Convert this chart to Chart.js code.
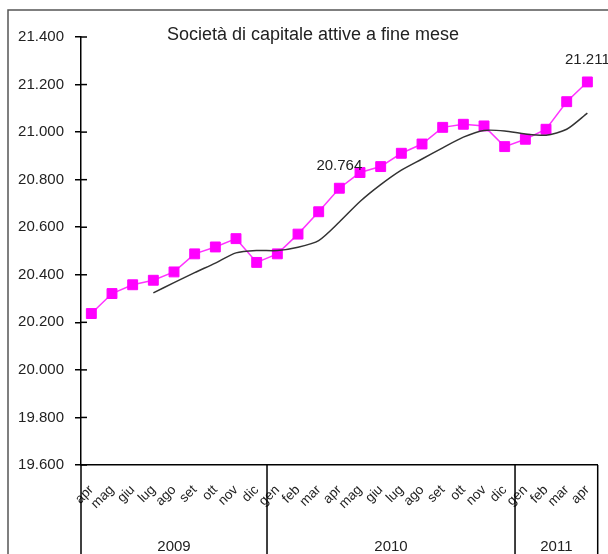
<!DOCTYPE html>
<html>
<head>
<meta charset="utf-8">
<script src="https://cdn.jsdelivr.net/npm/chart.js@4.4.0/dist/chart.umd.min.js"></script>
<style>
  html, body { margin: 0; padding: 0; background: #fff; }
  #wrap { width: 608px; height: 554px; }
</style>
</head>
<body>
<div id="wrap"><canvas id="societaChart" width="608" height="554"></canvas></div>
<script>
// Data
const months = ['apr', 'mag', 'giu', 'lug', 'ago', 'set', 'ott', 'nov', 'dic',
                'gen', 'feb', 'mar', 'apr', 'mag', 'giu', 'lug', 'ago', 'set', 'ott', 'nov', 'dic',
                'gen', 'feb', 'mar', 'apr'];
const years = ['2009', '2010', '2011'];
const yearFirst = [0, 9, 21];
const attive = [20237, 20321, 20358, 20377, 20412, 20488, 20517, 20552, 20452,
                20488, 20571, 20665, 20764, 20830, 20855, 20911, 20950, 21020, 21033, 21026, 20939,
                20970, 21012, 21128, 21211];
const media = [null, null, null, 20324, 20367, 20409, 20449, 20492, 20502,
               20502, 20516, 20544, 20622, 20708, 20779, 20840, 20887, 20934, 20979, 21007, 21005,
               20992, 20987, 21012, 21080];
const labelled = [12, 24];
const yMin = 19600, yMax = 21400, yStep = 200;

const fmt = v => String(Math.round(v)).replace(/\B(?=(\d{3})+(?!\d))/g, '.');
const FONT = '"Liberation Sans", Arial, sans-serif';

// frame, title, crossing ticks, year groups, value labels
const decor = {
    id: 'decor',
    afterDraw(chart) {
        const ctx = chart.ctx;
        const area = chart.chartArea;
        const x = chart.scales.x, y = chart.scales.y;
        ctx.save();

        ctx.strokeStyle = '#555';
        ctx.lineWidth = 1.5;
        ctx.beginPath();
        ctx.moveTo(8, chart.height);
        ctx.lineTo(8, 10);
        ctx.lineTo(chart.width, 10);
        ctx.stroke();

        ctx.fillStyle = '#222';
        ctx.font = '18px ' + FONT;
        ctx.textAlign = 'center';
        ctx.textBaseline = 'middle';
        ctx.fillText('Società di capitale attive a fine mese', 313, 35);

        ctx.strokeStyle = '#000';
        ctx.lineWidth = 1.5;
        y.ticks.forEach(t => {
            const py = y.getPixelForValue(t.value);
            ctx.beginPath();
            ctx.moveTo(area.left, py);
            ctx.lineTo(area.left + 6, py);
            ctx.stroke();
        });

        const half = (x.getPixelForValue(1) - x.getPixelForValue(0)) / 2;
        const edges = yearFirst.concat([months.length]);
        ctx.font = '15px ' + FONT;
        ctx.fillStyle = '#222';
        ctx.textBaseline = 'alphabetic';
        for (let i = 0; i < edges.length; i++) {
            const ex = x.getPixelForValue(edges[i]) - half;
            ctx.beginPath();
            ctx.moveTo(ex, area.bottom);
            ctx.lineTo(ex, chart.height);
            ctx.stroke();
            if (i < years.length) {
                const ex2 = x.getPixelForValue(edges[i + 1]) - half;
                ctx.fillText(years[i], (ex + ex2) / 2, 551);
            }
        }

        const meta = chart.getDatasetMeta(1);
        ctx.font = '15px ' + FONT;
        ctx.textBaseline = 'middle';
        labelled.forEach(i => {
            const p = meta.data[i];
            ctx.fillText(fmt(attive[i]), p.x, p.y - 22);
        });
        ctx.restore();
    }
};

const ctx = document.getElementById('societaChart').getContext('2d');
new Chart(ctx, {
    type: 'line',
    data: {
        labels: months,
        datasets: [{
            label: 'media',
            data: media,
            borderColor: '#333',
            borderWidth: 1.5,
            pointRadius: 0,
            tension: 0.25,
            fill: false
        }, {
            label: 'attive',
            data: attive,
            borderColor: '#ff33ff',
            borderWidth: 1.5,
            backgroundColor: '#ff00ff',
            pointBackgroundColor: '#ff00ff',
            pointBorderColor: '#ff00ff',
            pointBorderWidth: 1,
            pointStyle: 'rect',
            pointRadius: 7,
            tension: 0,
            fill: false
        }]
    },
    options: {
        responsive: false,
        animation: false,
        layout: { padding: { top: 37, right: 9, left: 0, bottom: 0 } },
        scales: {
            x: {
                type: 'category',
                offset: true,
                grid: { display: false },
                border: { display: true, color: '#000', width: 1.5 },
                ticks: {
                    minRotation: 45,
                    maxRotation: 45,
                    autoSkip: false,
                    padding: 9,
                    color: '#222',
                    font: { family: FONT, size: 13.5 }
                },
                afterFit: s => { s.height = 89; }
            },
            y: {
                min: yMin,
                max: yMax,
                border: { display: true, color: '#000', width: 1.5 },
                grid: { drawOnChartArea: false, drawTicks: true, tickLength: 6, color: '#000', lineWidth: 1.5 },
                ticks: {
                    stepSize: yStep,
                    padding: 11,
                    color: '#222',
                    font: { family: FONT, size: 15 },
                    callback: v => fmt(v)
                },
                afterFit: s => { s.width = 81; }
            }
        },
        plugins: {
            legend: { display: false },
            tooltip: { enabled: false },
            title: { display: false }
        }
    },
    plugins: [decor]
});
</script>
</body>
</html>
